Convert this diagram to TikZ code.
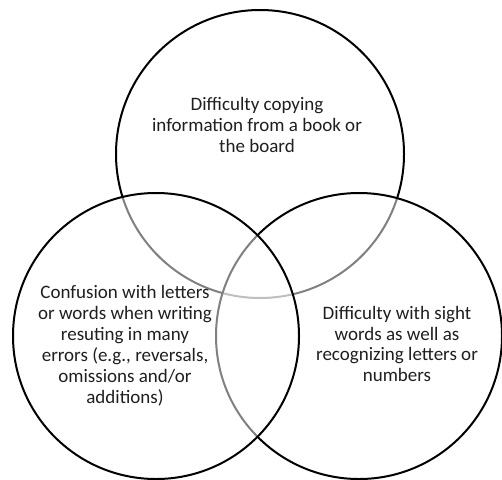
\documentclass[tikz,border=0pt]{standalone}
\usepackage{fontspec}
\setmainfont{Carlito}
\begin{document}
\begin{tikzpicture}[x=1pt,y=-1pt,
  setcircle/.style={circle, draw=black, line width=2pt, fill=white, fill opacity=0.5, draw opacity=1, minimum size=#1, inner sep=0pt},
  label/.style={align=center, text=black!88, font=\fontsize{19}{20.5}\selectfont}]
  \useasboundingbox (0,0) rectangle (502,479);
  % the three overlapping sets; each fill half-fades the outlines beneath it
  \node[setcircle=288pt] (top) at (260,154) {};
  \node[setcircle=286pt] (right) at (359,336) {};
  \node[setcircle=286pt] (left) at (156,336) {};
  % set descriptions
  \node[label, font=\fontsize{19}{21}\selectfont] (toptext) at (257,125) {Difficulty copying\\information from a book or\\the board};
  \node[label, font=\fontsize{19}{21}\selectfont] (lefttext) at (125,346) {Confusion with letters\\or words when writing\\resuting in many\\errors (e.g., reversals,\\omissions and/or\\additions)};
  \node[label] (righttext) at (397,344) {Difficulty with sight\\words as well as\\recognizing letters or\\numbers};
\end{tikzpicture}
\end{document}
